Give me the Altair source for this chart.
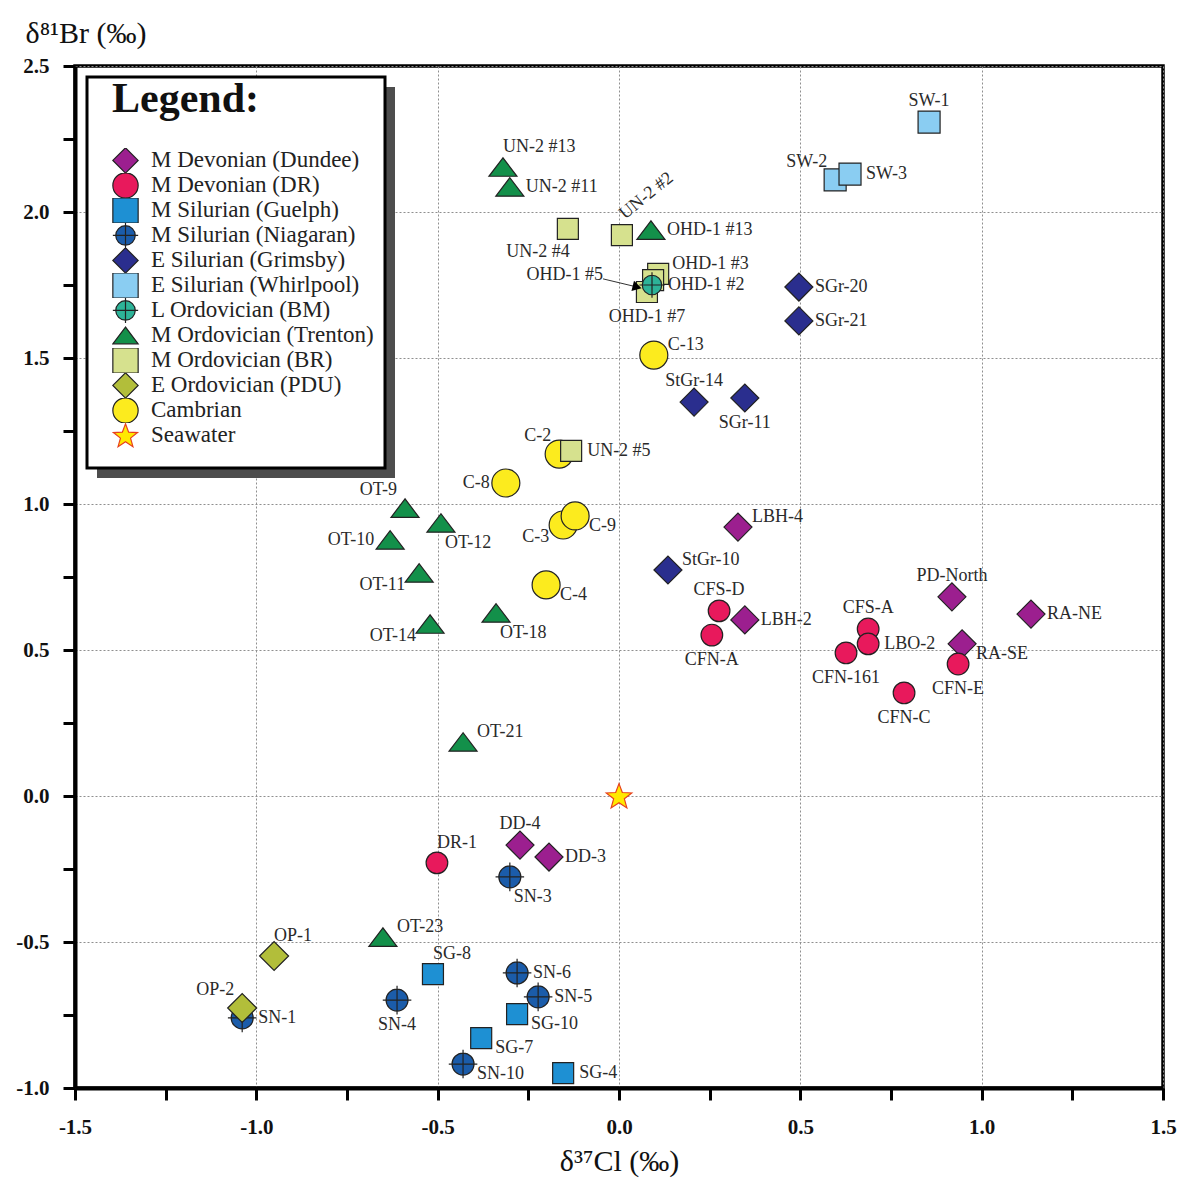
import math
import altair as alt
import pandas as pd

FONT = "Liberation Serif"

# ---------------- groups / legend ----------------
GROUPS = ["M Devonian (Dundee)", "M Devonian (DR)", "M Silurian (Guelph)",
          "M Silurian (Niagaran)", "E Silurian (Grimsby)", "E Silurian (Whirlpool)",
          "L Ordovician (BM)", "M Ordovician (Trenton)", "M Ordovician (BR)",
          "E Ordovician (PDU)", "Cambrian", "Seawater"]
FILLS = ["#9C1F8F", "#E8195C", "#1E90D3", "#1B5CAA", "#2A2E8E", "#8ACDF2",
         "#2DB398", "#13904A", "#D6E18E", "#B2BE3A", "#FCEB1E", "#FFE900"]
STROKES = ["#222222"] * 11 + ["#E8401C"]

# custom symbol paths (all normalised to the [-1, 1] box)
BOX = "M-1,-1M1,1"
CROSS_CIRCLE = (BOX + "M-0.77,0A0.77,0.77,0,1,1,0.77,0A0.77,0.77,0,1,1,-0.77,0Z"
                "M-1,0L1,0M0,-1L0,1")
TRIANGLE = BOX + "M0,-0.66L-1,0.66L1,0.66Z"


def star_path(outer=1.0, inner=0.42):
    pts = []
    for k in range(10):
        r = outer if k % 2 == 0 else inner
        a = -math.pi / 2 + k * math.pi / 5
        pts.append(f"{r * math.cos(a):.3f},{r * math.sin(a) + 0.08:.3f}")
    return BOX + "M" + "L".join(pts) + "Z"


STAR = star_path()
SHAPES = ["diamond", "circle", "square", CROSS_CIRCLE, "diamond", "square",
          CROSS_CIRCLE, TRIANGLE, "square", "diamond", "circle", STAR]
SIZES = [784, 470, 441, 816, 784, 484, 640, 784, 441, 841, 784, 720]

# ---------------- data (δ37Cl, δ81Br) ----------------
DUNDEE_LABELS = ["DD-4", "DD-3", "LBH-4", "LBH-2", "PD-North", "RA-NE", "RA-SE"]
DUNDEE_X = [-0.273, -0.193, 0.328, 0.347, 0.918, 1.136, 0.946]
DUNDEE_Y = [-0.168, -0.209, 0.921, 0.603, 0.682, 0.623, 0.521]
DUNDEE_POS = ["t", "r", "ru", "r", "t", "r", "rd"]

DR_LABELS = ["DR-1", "CFS-D", "CFN-A", "CFS-A", "LBO-2", "CFN-161", "CFN-E", "CFN-C"]
DR_X = [-0.502, 0.276, 0.256, 0.687, 0.687, 0.626, 0.935, 0.786]
DR_Y = [-0.229, 0.634, 0.551, 0.572, 0.521, 0.490, 0.452, 0.353]
DR_POS = ["tr", "t", "b", "t", "r", "b", "b", "b"]

GUELPH_LABELS = ["SG-8", "SG-10", "SG-7", "SG-4"]
GUELPH_X = [-0.513, -0.281, -0.380, -0.154]
GUELPH_Y = [-0.610, -0.747, -0.829, -0.949]
GUELPH_POS = ["tr", "rd", "rd", "r"]

NIAGARAN_LABELS = ["SN-3", "SN-6", "SN-5", "SN-4", "SN-1", "SN-10"]
NIAGARAN_X = [-0.301, -0.281, -0.223, -0.612, -1.039, -0.430]
NIAGARAN_Y = [-0.277, -0.606, -0.688, -0.699, -0.760, -0.918]
NIAGARAN_POS = ["br", "r", "r", "b", "r", "rd"]

GRIMSBY_LABELS = ["SGr-20", "SGr-21", "StGr-14", "SGr-11", "StGr-10"]
GRIMSBY_X = [0.496, 0.496, 0.207, 0.347, 0.135]
GRIMSBY_Y = [1.743, 1.627, 1.349, 1.363, 0.774]
GRIMSBY_POS = ["r", "r", "t", "b", "ru"]

WHIRLPOOL_LABELS = ["SW-1", "SW-2", "SW-3"]
WHIRLPOOL_X = [0.855, 0.596, 0.637]
WHIRLPOOL_Y = [2.308, 2.110, 2.130]
WHIRLPOOL_POS = ["t", "tl", "r"]

BR_LABELS = ["UN-2 #4", "UN-2 #2", "OHD-1 #3", "OHD-1 #5", "OHD-1 #7", "UN-2 #5"]
BR_X = [-0.141, 0.008, 0.108, 0.094, 0.077, -0.132]
BR_Y = [1.942, 1.921, 1.788, 1.767, 1.726, 1.182]
BR_POS = ["bl", "rot", "ru", "arrow", "b", "r"]

BM_LABELS = ["OHD-1 #2"]
BM_X = [0.091]
BM_Y = [1.750]
BM_POS = ["r"]

TRENTON_LABELS = ["UN-2 #13", "UN-2 #11", "OHD-1 #13", "OT-9", "OT-12", "OT-10",
                  "OT-11", "OT-18", "OT-14", "OT-21", "OT-23"]
TRENTON_X = [-0.320, -0.301, 0.088, -0.590, -0.491, -0.631, -0.551, -0.339,
             -0.521, -0.430, -0.651]
TRENTON_Y = [2.154, 2.086, 1.938, 0.986, 0.935, 0.877, 0.764, 0.627, 0.589,
             0.185, -0.483]
TRENTON_POS = ["tr", "r", "r", "tl", "br", "l", "ld", "br", "ld", "ru", "ru"]

PDU_LABELS = ["OP-1", "OP-2"]
PDU_X = [-0.951, -1.039]
PDU_Y = [-0.548, -0.726]
PDU_POS = ["tr", "tl"]

CAMBRIAN_LABELS = ["C-13", "C-2", "C-8", "C-3", "C-9", "C-4"]
CAMBRIAN_X = [0.096, -0.165, -0.312, -0.154, -0.121, -0.201]
CAMBRIAN_Y = [1.510, 1.171, 1.072, 0.928, 0.959, 0.723]
CAMBRIAN_POS = ["ru", "tl", "l", "ld", "rd", "rd"]

SEAWATER_X = [0.0]
SEAWATER_Y = [0.0]

ARROW_FROM = [-0.044, 1.771]
ARROW_TO = [0.050, 1.743]

SETS = [
    ("M Devonian (Dundee)", DUNDEE_LABELS, DUNDEE_X, DUNDEE_Y, DUNDEE_POS),
    ("M Devonian (DR)", DR_LABELS, DR_X, DR_Y, DR_POS),
    ("M Silurian (Guelph)", GUELPH_LABELS, GUELPH_X, GUELPH_Y, GUELPH_POS),
    ("M Silurian (Niagaran)", NIAGARAN_LABELS, NIAGARAN_X, NIAGARAN_Y, NIAGARAN_POS),
    ("E Silurian (Grimsby)", GRIMSBY_LABELS, GRIMSBY_X, GRIMSBY_Y, GRIMSBY_POS),
    ("E Silurian (Whirlpool)", WHIRLPOOL_LABELS, WHIRLPOOL_X, WHIRLPOOL_Y, WHIRLPOOL_POS),
    ("M Ordovician (Trenton)", TRENTON_LABELS, TRENTON_X, TRENTON_Y, TRENTON_POS),
    ("E Ordovician (PDU)", PDU_LABELS, PDU_X, PDU_Y, PDU_POS),
    ("Cambrian", CAMBRIAN_LABELS, CAMBRIAN_X, CAMBRIAN_Y, CAMBRIAN_POS),
    ("M Ordovician (BR)", BR_LABELS, BR_X, BR_Y, BR_POS),
    ("L Ordovician (BM)", BM_LABELS, BM_X, BM_Y, BM_POS),
    ("Seawater", ["Seawater"], SEAWATER_X, SEAWATER_Y, ["none"]),
]

size_of = dict(zip(GROUPS, SIZES))
rows = []
for i, (g, labs, xs, ys, ps) in enumerate(SETS):
    for lab, xv, yv, p in zip(labs, xs, ys, ps):
        rows.append({"group": g, "label": lab, "x": xv, "y": yv, "pos": p,
                     "order": i, "sz": size_of[g]})
df = pd.DataFrame(rows)

# ---------------- scales / axes ----------------
TICKS_X = [-1.5 + 0.25 * i for i in range(13)]
TICKS_Y = [-1.0 + 0.25 * i for i in range(15)]
LABEL_EXPR = ("abs(datum.value*2 - round(datum.value*2)) > 0.01 ? '' : "
              "(datum.value < 0 ? '-' + format(-datum.value, '.1f') : format(datum.value, '.1f'))")
GRID_OP = {"condition": {"test": "abs(datum.value*2 - round(datum.value*2)) > 0.01",
                         "value": 0}, "value": 1}

xscale = alt.Scale(domain=[-1.5, 1.5], nice=False, zero=False)
yscale = alt.Scale(domain=[-1.0, 2.5], nice=False, zero=False)

common_axis = dict(labelFont=FONT, labelFontWeight="bold", labelFontSize=21,
                   labelColor="#111", tickColor="black", tickWidth=3, tickSize=12,
                   domainColor="black", domainWidth=4, gridColor="#8f8f8f",
                   gridDash=[2, 2], gridWidth=1, gridOpacity=GRID_OP,
                   labelExpr=LABEL_EXPR, labelOverlap=False, labelFlush=False,
                   titleFont=FONT, titleFontWeight="normal", titleFontSize=30,
                   titleColor="#111")

xaxis = alt.Axis(values=TICKS_X, title="δ³⁷Cl (‰)", labelPadding=16, orient="bottom",
                 titleAnchor="middle", titleBaseline="alphabetic", titleY=82,
                 **common_axis)
yaxis = alt.Axis(values=TICKS_Y, title="δ⁸¹Br (‰)", labelPadding=14, orient="left",
                 titleAngle=0, titleAlign="left", titleBaseline="alphabetic",
                 titleX=-50, titleY=-24, **common_axis)

legend = alt.Legend(title="Legend:", orient="none", legendX=37, legendY=13,
                    titleFont=FONT, titleFontSize=42, titleFontWeight="bold",
                    titleColor="#111", titlePadding=27, labelFont=FONT,
                    labelFontSize=23, labelColor="#222", labelLimit=400,
                    labelOffset=12, rowPadding=0, clipHeight=24.9,
                    symbolSize=640, symbolStrokeWidth=1.2, symbolOpacity=1,
                    padding=0)

# ---------------- legend frame (decoration) ----------------
one = pd.DataFrame({"k": [0]})
shadow = alt.Chart(one).mark_rect(fill="#4d4d4d").encode(
    x=alt.value(22), x2=alt.value(320), y=alt.value(21), y2=alt.value(412))
box = alt.Chart(one).mark_rect(fill="white", stroke="black", strokeWidth=3).encode(
    x=alt.value(12), x2=alt.value(310), y=alt.value(11), y2=alt.value(402))

# ---------------- points ----------------
points = alt.Chart(df).mark_point(filled=True, opacity=1, fillOpacity=1,
                                  strokeWidth=1.2).encode(
    x=alt.X("x:Q", scale=xscale, axis=xaxis),
    y=alt.Y("y:Q", scale=yscale, axis=yaxis),
    fill=alt.Fill("group:N", scale=alt.Scale(domain=GROUPS, range=FILLS), legend=legend),
    shape=alt.Shape("group:N", scale=alt.Scale(domain=GROUPS, range=SHAPES), legend=legend),
    stroke=alt.Stroke("group:N", scale=alt.Scale(domain=GROUPS, range=STROKES), legend=legend),
    size=alt.Size("sz:Q", scale=None, legend=None),
    order=alt.Order("order:Q"),
)

# ---------------- labels ----------------
POS_STYLE = {
    "r": ("left", 16, 0), "ru": ("left", 14, -10), "rd": ("left", 14, 10),
    "l": ("right", -16, 0), "ld": ("right", -14, 12),
    "t": ("center", 0, -21), "b": ("center", 0, 25),
    "tr": ("left", 0, -20), "tl": ("right", -8, -18),
    "br": ("left", 4, 20), "bl": ("right", 2, 23),
    "arrow": ("right", -50, -5),
}
label_layers = []
for code, (al, dx, dy) in POS_STYLE.items():
    label_layers.append(
        alt.Chart(df).transform_filter(alt.datum.pos == code).mark_text(
            align=al, baseline="middle", dx=dx, dy=dy, font=FONT, fontSize=18,
            color="#2a2a2a").encode(x="x:Q", y="y:Q", text="label:N"))
rot_label = alt.Chart(df).transform_filter(alt.datum.pos == "rot").mark_text(
    align="left", baseline="alphabetic", angle=321, dx=12, dy=-10, font=FONT,
    fontSize=18, color="#2a2a2a").encode(x="x:Q", y="y:Q", text="label:N")

arrow_df = pd.DataFrame({"x": [ARROW_FROM[0]], "y": [ARROW_FROM[1]],
                         "x2": [ARROW_TO[0]], "y2": [ARROW_TO[1]]})
arrow = alt.Chart(arrow_df).mark_rule(color="#333", strokeWidth=1).encode(
    x="x:Q", y="y:Q", x2="x2:Q", y2="y2:Q")
arrow_head = alt.Chart(arrow_df).mark_point(shape="triangle-right", filled=True,
                                            color="black", opacity=1, size=110,
                                            angle=14).encode(x="x2:Q", y="y2:Q")

chart = alt.layer(shadow, box, arrow, points, arrow_head, *label_layers, rot_label).properties(
    width=1088, height=1022,
    autosize=alt.AutoSizeParams(type="none"),
    padding={"left": 75, "top": 66, "right": 20, "bottom": 94},
    background="white",
).configure_view(stroke="black", strokeWidth=3.5)

chart.save("out.html", embed_options={"renderer": "svg", "actions": False})
